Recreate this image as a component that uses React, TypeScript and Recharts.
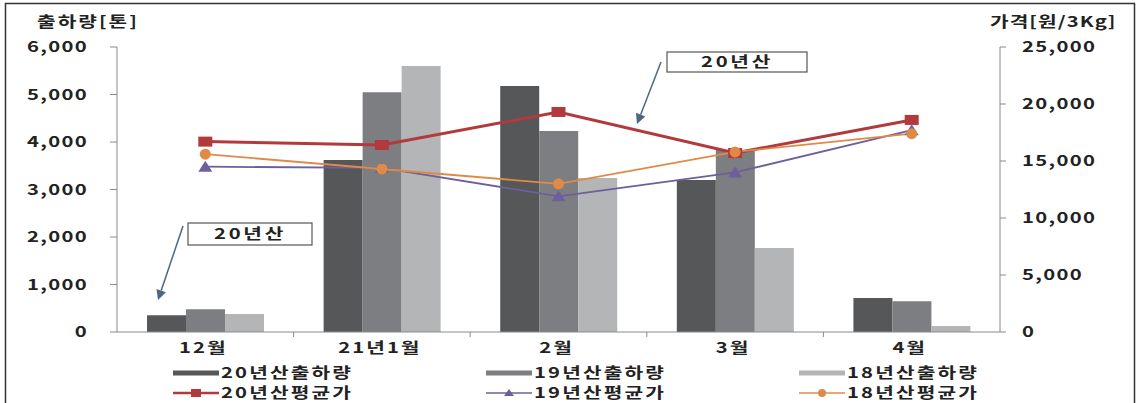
import {
  ComposedChart,
  Bar,
  Line,
  XAxis,
  YAxis,
} from 'recharts';

const months = ['12월', '21년1월', '2월', '3월', '4월'];

// 출하량 (톤)
const ship20 = [355, 3620, 5180, 3200, 715];
const ship19 = [480, 5050, 4230, 3830, 650];
const ship18 = [380, 5600, 3240, 1770, 125];

// 평균가 (원/3Kg)
const price20 = [16700, 16400, 19300, 15700, 18600];
const price19 = [14500, 14400, 11900, 14000, 17700];
const price18 = [15600, 14300, 13000, 15800, 17400];

const leftTicks = [0, 1000, 2000, 3000, 4000, 5000, 6000];
const rightTicks = [0, 5000, 10000, 15000, 20000, 25000];

const FONT = '"Noto Sans CJK KR", "Noto Sans", sans-serif';
const TEXT = '#222';
const AXIS = '#8a8a8a';

const C_DARK = '#555759';
const C_MID = '#7d7e81';
const C_LIGHT = '#b4b5b7';
const C_RED = '#b23a3d';
const C_PURPLE = '#6e5f9c';
const C_ORANGE = '#e08a48';

const data = months.map((m, i) => ({
  month: m,
  s20: ship20[i],
  s19: ship19[i],
  s18: ship18[i],
  p20: price20[i],
  p19: price19[i],
  p18: price18[i],
}));

const fmt = (v: number) => v.toLocaleString('en-US');

const PLOT_LEFT = 117;
const PLOT_RIGHT = 1000;
const BAND = (PLOT_RIGHT - PLOT_LEFT) / months.length;

// wide bold text, like the scanned original
function WText({ x, y, anchor = 'start', size = 15, spacing = 1, children }: any) {
  return (
    <text
      transform={`translate(${x},${y}) scale(1.35,1)`}
      x={0}
      y={0}
      dy={size * 0.36}
      textAnchor={anchor}
      fontSize={size}
      fontWeight={700}
      fill={TEXT}
      fontFamily={FONT}
      style={{ letterSpacing: spacing }}
    >
      {children}
    </text>
  );
}

function LeftTick(props: any) {
  const { x, y, payload } = props;
  return <WText x={x} y={y} anchor="end">{fmt(payload.value)}</WText>;
}

function RightTick(props: any) {
  const { x, y, payload } = props;
  return <WText x={x} y={y}>{fmt(payload.value)}</WText>;
}

function MonthTick(props: any) {
  const { x, y, payload, index } = props;
  return (
    <g>
      {index < months.length - 1 && (
        <line x1={x + BAND / 2} x2={x + BAND / 2} y1={y - 8} y2={y - 3} stroke={AXIS} />
      )}
      <WText x={x - 2} y={y + 8} anchor="middle" spacing={1.5}>{payload.value}</WText>
    </g>
  );
}

const SquareDot = (p: any) => (
  <rect key={`sq-${p.index}`} x={p.cx - 7} y={p.cy - 5} width={14} height={10} fill={C_RED} />
);
const TriDot = (p: any) => (
  <path key={`tr-${p.index}`} d={`M${p.cx},${p.cy - 6} L${p.cx + 7},${p.cy + 5} L${p.cx - 7},${p.cy + 5} Z`} fill={C_PURPLE} />
);
const CircleDot = (p: any) => (
  <circle key={`ci-${p.index}`} cx={p.cx} cy={p.cy} r={5.5} fill={C_ORANGE} />
);

const legendRows = [
  [
    { label: '20년산출하량', color: C_DARK, kind: 'bar' },
    { label: '19년산출하량', color: C_MID, kind: 'bar' },
    { label: '18년산출하량', color: C_LIGHT, kind: 'bar' },
  ],
  [
    { label: '20년산평균가', color: C_RED, kind: 'sq' },
    { label: '19년산평균가', color: C_PURPLE, kind: 'tri' },
    { label: '18년산평균가', color: C_ORANGE, kind: 'ci' },
  ],
];
const legendCols = [173, 486, 799];

function LegendBox() {
  return (
    <g>
      {legendRows.map((row, r) =>
        row.map((item, c) => {
          const x = legendCols[c];
          const y = 373 + r * 20;
          return (
            <g key={`${r}-${c}`}>
              {item.kind === 'bar' ? (
                <line x1={x} x2={x + 46} y1={y} y2={y} stroke={item.color} strokeWidth={5} />
              ) : (
                <line x1={x} x2={x + 46} y1={y} y2={y} stroke={item.color} strokeWidth={item.kind === 'sq' ? 2.5 : 1.5} />
              )}
              {item.kind === 'sq' && <rect x={x + 18} y={y - 4} width={10} height={8} fill={item.color} />}
              {item.kind === 'tri' && <path d={`M${x + 23},${y - 4} L${x + 28},${y + 3} L${x + 18},${y + 3} Z`} fill={item.color} />}
              {item.kind === 'ci' && <circle cx={x + 23} cy={y} r={4} fill={item.color} />}
              <WText x={x + 48} y={y} spacing={1.6}>{item.label}</WText>
            </g>
          );
        })
      )}
    </g>
  );
}

function Callout({ bx, by, bw, bh, ax1, ay1, ax2, ay2 }: any) {
  const ang = Math.atan2(ay2 - ay1, ax2 - ax1);
  const hl = 10;
  const hw = 5;
  const bxp = ax2 - hl * Math.cos(ang);
  const byp = ay2 - hl * Math.sin(ang);
  const px = -Math.sin(ang) * hw;
  const py = Math.cos(ang) * hw;
  return (
    <g>
      <line x1={ax1} y1={ay1} x2={bxp} y2={byp} stroke="#4f6680" strokeWidth={1.5} />
      <path d={`M${ax2},${ay2} L${bxp + px},${byp + py} L${bxp - px},${byp - py} Z`} fill="#4f6680" />
      <rect x={bx} y={by} width={bw} height={bh} fill="#fff" stroke="#555" strokeWidth={1.2} />
      <WText x={bx + bw / 2} y={by + bh / 2} anchor="middle" spacing={2}>20년산</WText>
    </g>
  );
}

export default function App() {
  return (
    <div style={{ position: 'fixed', left: 0, top: 0, width: 1140, height: 403, background: '#fff', fontFamily: FONT }}>
      <ComposedChart
        width={1140}
        height={403}
        data={data}
        margin={{ top: 47, right: 40, left: 47, bottom: 41 }}
        barCategoryGap="17%"
        barGap={0}
      >
        <XAxis
          dataKey="month"
          axisLine={{ stroke: AXIS }}
          tickLine={false}
          tick={<MonthTick />}
          height={30}
          interval={0}
        />
        <YAxis
          yAxisId="l"
          domain={[0, 6000]}
          ticks={leftTicks}
          width={70}
          axisLine={{ stroke: AXIS }}
          tickLine={{ stroke: AXIS }}
          tickSize={7}
          tickMargin={22}
          tick={<LeftTick />}
          interval={0}
        />
        <YAxis
          yAxisId="r"
          orientation="right"
          domain={[0, 25000]}
          ticks={rightTicks}
          width={100}
          axisLine={{ stroke: AXIS }}
          tickLine={{ stroke: AXIS }}
          tickSize={6}
          tickMargin={16}
          tick={<RightTick />}
          interval={0}
        />
        <Bar yAxisId="l" dataKey="s20" name="20년산출하량" fill={C_DARK} isAnimationActive={false} />
        <Bar yAxisId="l" dataKey="s19" name="19년산출하량" fill={C_MID} isAnimationActive={false} />
        <Bar yAxisId="l" dataKey="s18" name="18년산출하량" fill={C_LIGHT} isAnimationActive={false} />
        <Line yAxisId="r" dataKey="p20" name="20년산평균가" stroke={C_RED} strokeWidth={3} dot={SquareDot} activeDot={false} isAnimationActive={false} />
        <Line yAxisId="r" dataKey="p19" name="19년산평균가" stroke={C_PURPLE} strokeWidth={1.8} dot={TriDot} activeDot={false} isAnimationActive={false} />
        <Line yAxisId="r" dataKey="p18" name="18년산평균가" stroke={C_ORANGE} strokeWidth={1.8} dot={CircleDot} activeDot={false} isAnimationActive={false} />
      </ComposedChart>
      <svg width={1140} height={403} style={{ position: 'absolute', left: 0, top: 0, pointerEvents: 'none' }}>
        <rect x={5.5} y={3.5} width={1129} height={420} fill="none" stroke="#333" strokeWidth={1.5} />
        <WText x={37} y={22} size={15} spacing={1.5}>출하량[톤]</WText>
        <WText x={990} y={22} size={15} spacing={0.8}>가격[원/3Kg]</WText>
        <Callout bx={188} by={223} bw={124} bh={22} ax1={183} ay1={226} ax2={158} ay2={300} />
        <Callout bx={667} by={52} bw={140} bh={20} ax1={661} ay1={62} ax2={637} ay2={124} />
        <LegendBox />
      </svg>
    </div>
  );
}
